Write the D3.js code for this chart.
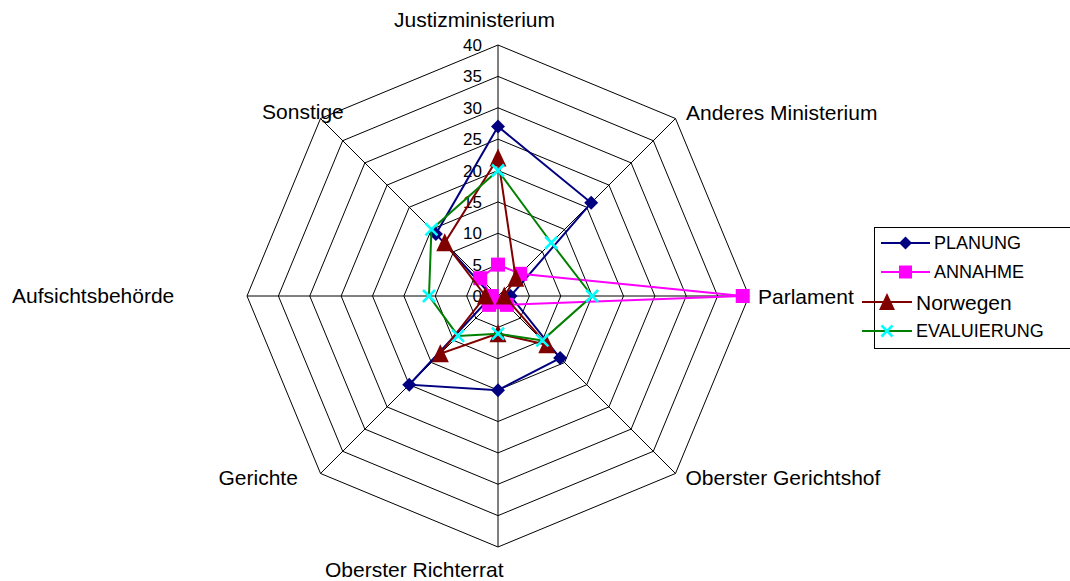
<!DOCTYPE html>
<html>
<head>
<meta charset="utf-8">
<script src="https://cdn.jsdelivr.net/npm/d3@7"></script>
<style>
  body { margin: 0; background: #fff; }
  svg { display: block; font-family: "Liberation Sans", Arial, sans-serif; }
</style>
</head>
<body>
<svg width="1070" height="581"></svg>
<script>
var categories = ["Justizministerium", "Anderes Ministerium", "Parlament", "Oberster Gerichtshof",
    "Oberster Richterrat", "Gerichte", "Aufsichtsbehörde", "Sonstige"];
var planung = [27, 21, 2, 14, 15, 20, 1, 14];
var annahme = [5, 5, 39, 2, 1, 2, 1, 4];
var norwegen = [22, 4, 1, 11, 6, 13, 2, 12];
var evaluierung = [20, 12, 15, 10, 6, 9, 11, 15];
var ticks = [0, 5, 10, 15, 20, 25, 30, 35, 40];

var series = [
    {name: "PLANUNG", values: planung, line: "#000080", fill: "#000080", marker: "diamond"},
    {name: "ANNAHME", values: annahme, line: "#ff00ff", fill: "#ff00ff", marker: "square"},
    {name: "Norwegen", values: norwegen, line: "#800000", fill: "#800000", marker: "triangle"},
    {name: "EVALUIERUNG", values: evaluierung, line: "#008000", fill: "#00ffff", marker: "cross"}
];

var svg = d3.select("svg"),
    cx = 498, cy = 296, R = 251;

var r = d3.scaleLinear().domain([0, 40]).range([0, R]);
var angle = d3.scaleLinear().domain([0, categories.length]).range([0, 2 * Math.PI]);

function pt(i, v) {
    var a = angle(i);
    return [cx + r(v) * Math.sin(a), cy - r(v) * Math.cos(a)];
}

// grid octagons
var grid = svg.append("g");
ticks.slice(1).forEach(function (t) {
    grid.append("polygon")
        .attr("points", categories.map(function (c, i) { return pt(i, t).join(","); }).join(" "))
        .attr("fill", "none").attr("stroke", "#000").attr("stroke-width", 1);
});
categories.forEach(function (c, i) {
    var p = pt(i, 40);
    grid.append("line")
        .attr("x1", cx).attr("y1", cy).attr("x2", p[0]).attr("y2", p[1])
        .attr("stroke", "#000").attr("stroke-width", 1);
});

// tick labels
svg.append("g").selectAll("text")
    .data(ticks).enter().append("text")
    .attr("x", 482)
    .attr("y", function (d) { return cy - r(d); })
    .attr("dy", "0.36em")
    .attr("text-anchor", "end")
    .attr("font-size", 17)
    .text(function (d) { return d; });

// category labels (offsets from outer vertex, text-anchor start)
var labelOff = [[-104, -18], [10.5, 1.5], [9, 8], [10, 11.5], [-173, 30], [-102, 11.5], [-235, 7], [-58.5, 0.5]];
svg.append("g").selectAll("text")
    .data(categories).enter().append("text")
    .attr("x", function (d, i) { return pt(i, 40)[0] + labelOff[i][0]; })
    .attr("y", function (d, i) { return pt(i, 40)[1] + labelOff[i][1]; })
    .attr("font-size", 21)
    .text(function (d) { return d; });

function drawMarker(g, type, x, y, s, fill) {
    var h = s / 2, p;
    if (type === "diamond") {
        p = "M" + x + "," + (y - h) + "L" + (x + h) + "," + y + "L" + x + "," + (y + h) + "L" + (x - h) + "," + y + "Z";
        g.append("path").attr("d", p).attr("fill", fill);
    } else if (type === "square") {
        g.append("rect").attr("x", x - h).attr("y", y - h)
            .attr("width", s).attr("height", s).attr("fill", fill);
    } else if (type === "triangle") {
        p = "M" + x + "," + (y - h - 1) + "L" + (x + h) + "," + (y + h) + "L" + (x - h) + "," + (y + h) + "Z";
        g.append("path").attr("d", p).attr("fill", fill);
    } else {
        p = "M" + (x - h) + "," + (y - h) + "L" + (x + h) + "," + (y + h) +
            "M" + (x - h) + "," + (y + h) + "L" + (x + h) + "," + (y - h);
        g.append("path").attr("d", p).attr("stroke", fill).attr("stroke-width", 2.5);
    }
}

var line = d3.lineRadial()
    .angle(function (d, i) { return angle(i); })
    .radius(function (d) { return r(d); })
    .curve(d3.curveLinearClosed);

var sizes = {diamond: 14, square: 14, triangle: 17, cross: 12};

series.forEach(function (s) {
    var g = svg.append("g");
    g.append("path")
        .attr("d", line(s.values))
        .attr("transform", "translate(" + cx + "," + cy + ")")
        .attr("fill", "none").attr("stroke", s.line).attr("stroke-width", 2);
    s.values.forEach(function (v, i) {
        var p = pt(i, v);
        drawMarker(g, s.marker, p[0], p[1], sizes[s.marker], s.fill);
    });
});

// legend
var lg = svg.append("g");
lg.append("rect").attr("x", 874.5).attr("y", 227.5).attr("width", 210).attr("height", 121)
    .attr("fill", "#fff").attr("stroke", "#000").attr("stroke-width", 1);
var legendRows = [
    {x1: 881, x2: 930, y: 243, fs: 18},
    {x1: 881, x2: 930, y: 272, fs: 18},
    {x1: 862, x2: 912, y: 302, fs: 21},
    {x1: 862, x2: 912, y: 331, fs: 18}
];
series.forEach(function (s, i) {
    var row = legendRows[i];
    lg.append("line").attr("x1", row.x1).attr("x2", row.x2).attr("y1", row.y).attr("y2", row.y)
        .attr("stroke", s.line).attr("stroke-width", 2);
    drawMarker(lg, s.marker, (row.x1 + row.x2) / 2, row.y, sizes[s.marker] - 1, s.fill);
    lg.append("text").attr("x", row.x2 + 4).attr("y", row.y).attr("dy", "0.36em")
        .attr("font-size", row.fs).text(s.name);
});
</script>
</body>
</html>
